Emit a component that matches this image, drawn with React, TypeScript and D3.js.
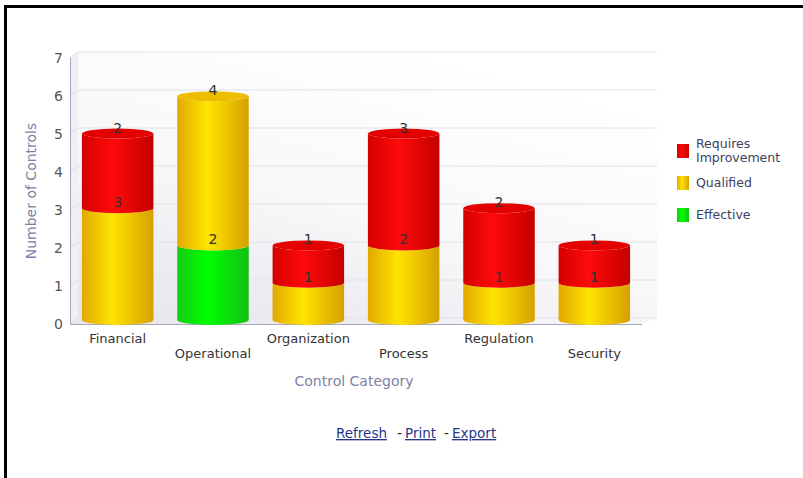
import React from 'react'
import * as d3 from 'd3'

const categories = ['Financial', 'Operational', 'Organization', 'Process', 'Regulation', 'Security']
const effective = [0, 2, 0, 0, 0, 0]
const qualified = [3, 4, 1, 2, 1, 1]
const requiresImprovement = [2, 0, 1, 3, 2, 1]
const yTicks = [0, 1, 2, 3, 4, 5, 6, 7]

const seriesKeys = ['effective', 'qualified', 'requires']
const seriesLabels: Record<string, string> = {
  requires: 'Requires Improvement',
  qualified: 'Qualified',
  effective: 'Effective'
}
const palette: Record<string, { stops: string[]; cap: string }> = {
  requires: { stops: ['#d40000', '#ff0a0a', '#c40000'], cap: '#e20000' },
  qualified: { stops: ['#e2a800', '#ffe400', '#d6a000'], cap: '#eebd00' },
  effective: { stops: ['#14cc14', '#00ff00', '#12c012'], cap: '#00e000' }
}

const W = 803
const H = 478
const font = '"DejaVu Sans", Verdana, sans-serif'

export default function App() {
  const rows = categories.map((c, i) => ({
    category: c,
    effective: effective[i],
    qualified: qualified[i],
    requires: requiresImprovement[i]
  }))
  const stacked = d3.stack<any>().keys(seriesKeys)(rows)

  const x = d3.scaleBand().domain(categories).range([70, 642]).paddingInner(0.25).paddingOuter(0.125)
  // front axis scale (ticks) and the scale at the middle depth where the cylinders stand
  const y = d3.scaleLinear().domain([0, 7]).range([324, 58])
  const yBar = d3.scaleLinear().domain([0, 7]).range([320, 59])
  const dx = 8
  const dy = -6
  const rx = x.bandwidth() / 2
  const ry = 5

  const segPath = (xl: number, y0: number, y1: number) => {
    const xr = xl + 2 * rx
    return `M${xl},${y1} A${rx},${ry} 0 0 0 ${xr},${y1} L${xr},${y0} A${rx},${ry} 0 0 1 ${xl},${y0} Z`
  }

  const totals = rows.map((r) => r.effective + r.qualified + r.requires)

  return (
    <svg width={W} height={H} style={{ position: 'absolute', left: 0, top: 0, background: '#fff' }} fontFamily={font}>
      <defs>
        {seriesKeys.map((k) => (
          <linearGradient key={k} id={`g-${k}`} x1="0" y1="0" x2="1" y2="0">
            <stop offset="0" stopColor={palette[k].stops[0]} />
            <stop offset="0.42" stopColor={palette[k].stops[1]} />
            <stop offset="1" stopColor={palette[k].stops[2]} />
          </linearGradient>
        ))}
        <linearGradient id="wall" x1="0" y1="1" x2="0.6" y2="0">
          <stop offset="0" stopColor="#e4e4ea" />
          <stop offset="0.5" stopColor="#f8f8fa" />
          <stop offset="1" stopColor="#ffffff" />
        </linearGradient>
        <linearGradient id="floor" x1="0" y1="0" x2="1" y2="0">
          <stop offset="0" stopColor="#e6e6ec" />
          <stop offset="1" stopColor="#f6f6f8" />
        </linearGradient>
      </defs>

      {/* frame */}
      <rect x={5.5} y={6.5} width={W + 10} height={H + 10} fill="none" stroke="#000" strokeWidth={3} />

      {/* 3d walls */}
      <rect x={70 + dx} y={y(7) + dy} width={657 - 70 - dx} height={y(0) - y(7)} fill="url(#wall)" />
      <path
        d={`M70,${y(0)} L${70 + dx},${y(0) + dy} L${70 + dx},${y(7) + dy} L70,${y(7)} Z`}
        fill="#f0f0f4"
      />
      <path
        d={`M70,${y(0)} L${70 + dx},${y(0) + dy} L657,${y(0) + dy} L642,${y(0)} Z`}
        fill="url(#floor)"
      />
      {yTicks.map((t) => (
        <g key={t}>
          <line x1={70 + dx} x2={657} y1={y(t) + dy} y2={y(t) + dy} stroke="#e2e2e8" />
          <line x1={70} x2={70 + dx} y1={y(t)} y2={y(t) + dy} stroke="#dcdce4" />
          <text x={63} y={y(t) + 5} textAnchor="end" fontSize={14} fill="#555">
            {t}
          </text>
        </g>
      ))}
      <line x1={70.5} x2={70.5} y1={y(7)} y2={y(0)} stroke="#a8a8bc" />
      <line x1={70} x2={642} y1={y(0) + 0.5} y2={y(0) + 0.5} stroke="#a8a8bc" />

      {/* cylinders */}
      {stacked.map((s) =>
        s.map((d, i) => {
          const v = d[1] - d[0]
          if (v <= 0) return null
          const xl = x(categories[i]) ?? 0
          return (
            <path key={`${s.key}-${i}`} d={segPath(xl, yBar(d[0]), yBar(d[1]))} fill={`url(#g-${s.key})`} />
          )
        })
      )}
      {categories.map((c, i) => {
        const top = stacked.filter((s) => s[i][1] - s[i][0] > 0).pop()
        if (!top) return null
        return (
          <ellipse
            key={`cap-${c}`}
            cx={(x(c) ?? 0) + rx}
            cy={yBar(totals[i])}
            rx={rx}
            ry={ry}
            fill={palette[top.key].cap}
          />
        )
      })}
      {stacked.map((s) =>
        s.map((d, i) => {
          const v = d[1] - d[0]
          if (v <= 0) return null
          return (
            <text
              key={`lbl-${s.key}-${i}`}
              x={(x(categories[i]) ?? 0) + rx}
              y={yBar(d[1]) - 1}
              textAnchor="middle"
              fontSize={14}
              fill="#333"
            >
              {v}
            </text>
          )
        })
      )}

      {/* x tick labels, staggered */}
      {categories.map((c, i) => (
        <text
          key={`xt-${c}`}
          x={(x(c) ?? 0) + rx}
          y={i % 2 === 0 ? 343 : 358}
          textAnchor="middle"
          fontSize={13}
          fill="#333"
        >
          {c}
        </text>
      ))}

      <text x={354} y={386} textAnchor="middle" fontSize={14} fill="#7c82a6">
        Control Category
      </text>
      <text
        transform={`translate(36,${y(3.5)}) rotate(-90)`}
        textAnchor="middle"
        fontSize={14}
        fill="#7c82a6"
      >
        Number of Controls
      </text>

      {/* legend */}
      {['requires', 'qualified', 'effective'].map((k, i) => {
        const ly = 144 + i * 32
        return (
          <g key={`lg-${k}`}>
            <rect x={677} y={ly} width={12} height={14} fill={`url(#g-${k})`} />
            {k === 'requires' ? (
              <text x={696} y={ly + 4} fontSize={12.5} fill="#404060">
                <tspan x={696} dy={0}>Requires</tspan>
                <tspan x={696} dy={14}>Improvement</tspan>
              </text>
            ) : (
              <text x={696} y={ly + 11} fontSize={12.5} fill="#404060">
                {seriesLabels[k]}
              </text>
            )}
          </g>
        )
      })}

      {/* footer links */}
      <g fontSize={13.5} fill="#26388a">
        <text x={336} y={438} textDecoration="underline">Refresh</text>
        <text x={397} y={438} fill="#222">-</text>
        <text x={405} y={438} textDecoration="underline">Print</text>
        <text x={444} y={438} fill="#222">-</text>
        <text x={452} y={438} textDecoration="underline">Export</text>
      </g>
    </svg>
  )
}
